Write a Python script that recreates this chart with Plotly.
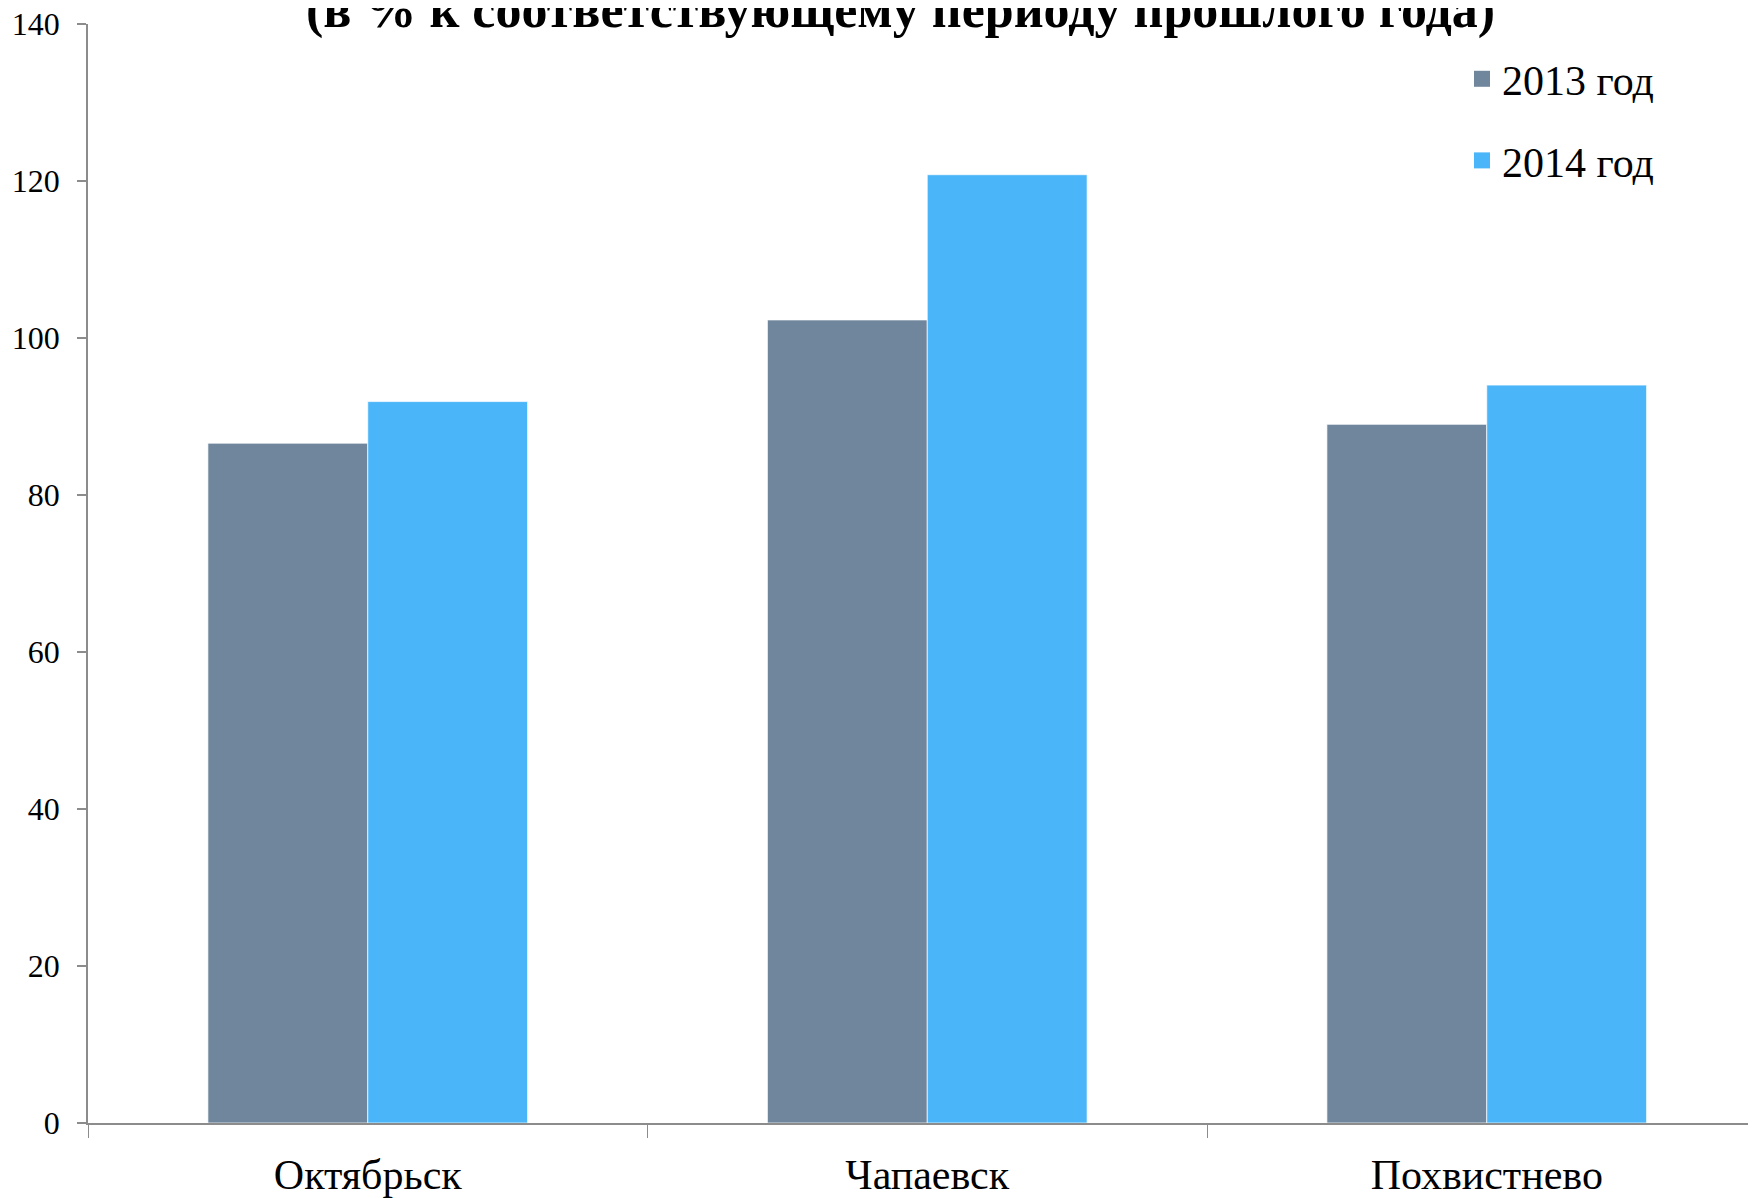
import plotly.graph_objects as go

categories = ["Октябрьск", "Чапаевск", "Похвистнево"]
series_names = ["2013 год", "2014 год"]
values_2013 = [86.6, 102.3, 89.0]
values_2014 = [91.9, 120.8, 94.0]
y_ticks = [0, 20, 40, 60, 80, 100, 120, 140]
title_text = "(в % к соответствующему периоду прошлого года)"

colors = ["#6f869d", "#4ab5f8"]
serif = "Liberation Serif, Times New Roman, serif"

# page body adds an 8px offset; figure coords = screen coords - 8
OFF = 8
W, H = 1756 - OFF, 1198 - OFF
ml, mt, mr = 88 - OFF, 24 - OFF, 0
mb = H - (1123.3 - OFF)
plot_w = W - ml - mr
plot_h = H - mt - mb

fig = go.Figure()
for name, vals, col in zip(series_names, [values_2013, values_2014], colors):
    fig.add_trace(go.Bar(
        x=categories, y=vals, name=name, showlegend=False,
        marker=dict(color=col, line=dict(color="rgba(255,255,255,0.7)", width=1)),
    ))
for i, (name, col) in enumerate(zip(series_names, colors)):
    fig.add_trace(go.Scatter(
        x=[None], y=[None], mode="markers", name=name, legendgroup=f"g{i}",
        marker=dict(symbol="square", size=22, color=col),
    ))

unit = 559.5
xmax = -0.5 + plot_w / unit

def py(screen_y):
    return (H - mb - (screen_y - OFF)) / plot_h

def px(screen_x):
    return (screen_x - OFF - ml) / plot_w

fig.add_annotation(
    text=f"<b>{title_text}</b>", xref="paper", yref="paper",
    x=px(900), xanchor="center",
    y=py(9.5), yanchor="middle", showarrow=False,
    font=dict(family=serif, size=52, color="black"),
)

fig.update_layout(
    width=W, height=H,
    margin=dict(l=ml, r=mr, t=mt, b=mb, autoexpand=False),
    plot_bgcolor="white", paper_bgcolor="white",
    barmode="group", bargap=0.4286, bargroupgap=0,
    font=dict(family=serif, color="black"),
    legend=dict(x=px(1462), xanchor="left", y=py(45), yanchor="top",
                font=dict(family=serif, size=42, color="black"),
                tracegroupgap=24, bgcolor="rgba(0,0,0,0)"),
    xaxis=dict(range=[-0.5, xmax], showline=True, linecolor="#8c8c8c", linewidth=1.5,
               ticks="outside", tickson="boundaries", ticklen=13, tickcolor="#8c8c8c",
               tickwidth=1, showgrid=False, zeroline=False, automargin=False,
               tickfont=dict(family=serif, size=42, color="black"),
               ticklabelstandoff=14, ticklabeloverflow="allow"),
    yaxis=dict(range=[0, 140], tickvals=y_ticks, showline=True, linecolor="#8c8c8c",
               linewidth=1.5, ticks="outside", ticklen=9, tickcolor="#8c8c8c", tickwidth=1.5,
               showgrid=False, zeroline=False, automargin=False,
               tickfont=dict(family=serif, size=32, color="black"),
               ticklabelstandoff=11, ticklabeloverflow="allow"),
)

fig.write_html("out.html")
